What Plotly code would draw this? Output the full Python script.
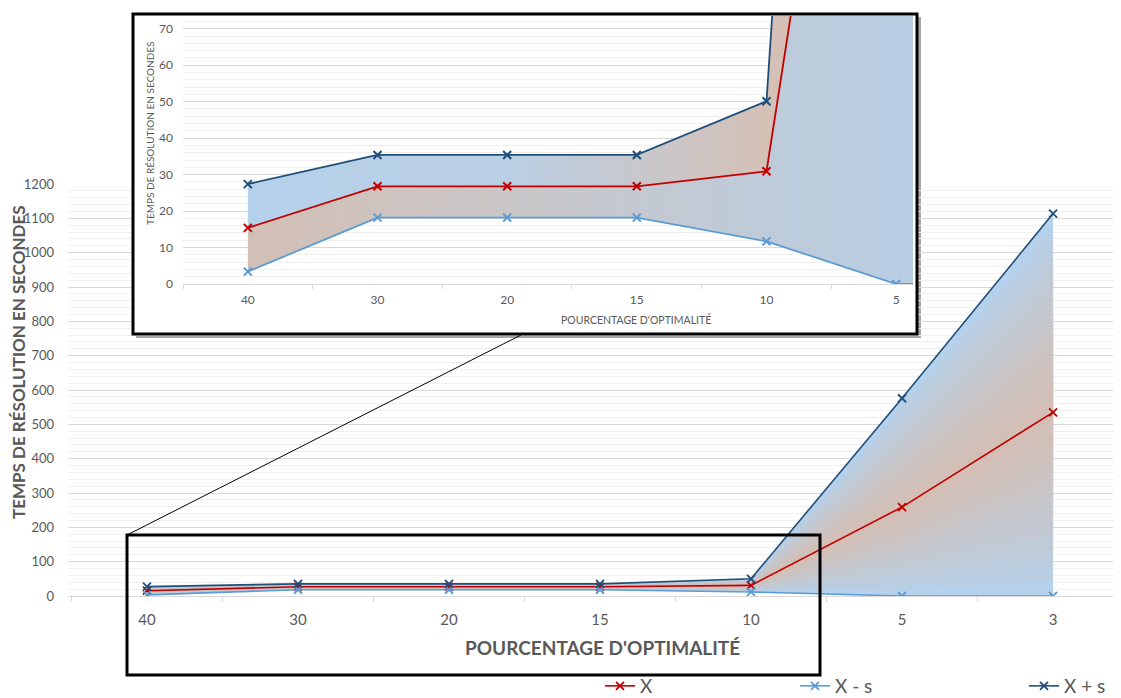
import plotly.graph_objects as go

# ---------------- data ----------------
categories = ["40", "30", "20", "15", "10", "5", "3"]
x_mean = [15.4, 26.8, 26.8, 26.8, 30.9, 259, 535]
x_minus_s = [3.4, 18.2, 18.2, 18.2, 11.7, 0, 0]
x_plus_s = [27.4, 35.4, 35.4, 35.4, 50.1, 576, 1114]
series_names = ["X", "X - s", "X + s"]
y_title = "TEMPS DE RÉSOLUTION EN SECONDES"
x_title = "POURCENTAGE D'OPTIMALITÉ"

# ---------------- style ----------------
PAGE_MARGIN = 8            # default body margin of the html page
W, H = 1121 - PAGE_MARGIN, 698 - PAGE_MARGIN
FONT = "Lato, 'Open Sans', sans-serif"
GREY = "#595959"
RED = "#c00000"
LBLUE = "#5b9bd5"
DBLUE = "#1f4e79"
BLUE_FILL = (181, 209, 235)
TAN_FILL = (211, 191, 181)


def fx(px):
    return (px - PAGE_MARGIN) / W


def fy(py):
    return 1 - (py - PAGE_MARGIN) / H


def mix(c1, c2, t):
    return "rgb(%d,%d,%d)" % tuple(round(a + (b - a) * t) for a, b in zip(c1, c2))


fig = go.Figure()

# ---- main chart: band between X-s and X+s, tan near X, blue toward the edges ----
N = 12
for k in range(N):
    f = 1 - k / N
    lo = [m - f * (m - l) for m, l in zip(x_mean, x_minus_s)]
    hi = [m + f * (p - m) for m, p in zip(x_mean, x_plus_s)]
    col = mix(BLUE_FILL, TAN_FILL, (k / (N - 1)) ** 0.8)
    fig.add_trace(go.Scatter(x=categories, y=lo, mode="lines", line=dict(width=0),
                             showlegend=False, hoverinfo="skip", xaxis="x", yaxis="y"))
    fig.add_trace(go.Scatter(x=categories, y=hi, mode="lines", line=dict(width=0),
                             fill="tonexty", fillcolor=col,
                             showlegend=False, hoverinfo="skip", xaxis="x", yaxis="y"))

main_series = [(series_names[0], x_mean, RED, "legend"),
               (series_names[1], x_minus_s, LBLUE, "legend2"),
               (series_names[2], x_plus_s, DBLUE, "legend3")]
for name, vals, col, lg in main_series:
    fig.add_trace(go.Scatter(
        x=categories, y=vals, name=name, mode="lines+markers",
        line=dict(color=col, width=1.6),
        marker=dict(symbol="x-thin", size=8, line=dict(color=col, width=1.8), color=col),
        legend=lg, xaxis="x", yaxis="y"))

# ---- empty subplot used as the white card behind the inset ----
fig.add_trace(go.Scatter(x=[], y=[], mode="lines", showlegend=False, hoverinfo="skip",
                         xaxis="x2", yaxis="y2"))

# ---- inset chart (x3/y3) ----
fig.add_trace(go.Scatter(x=categories, y=x_minus_s, mode="lines+markers",
                         line=dict(color=LBLUE, width=1.8),
                         marker=dict(symbol="x-thin", size=8, line=dict(color=LBLUE, width=2)),
                         showlegend=False, hoverinfo="skip", xaxis="x3", yaxis="y3"))
fig.add_trace(go.Scatter(x=categories, y=x_mean, mode="lines+markers",
                         line=dict(color=RED, width=1.8),
                         marker=dict(symbol="x-thin", size=8, line=dict(color=RED, width=2)),
                         fill="tonexty",
                         fillgradient=dict(type="horizontal", start=0, stop=5,
                                           colorscale=[[0, mix(TAN_FILL, TAN_FILL, 0)],
                                                       [0.35, "rgb(203,198,198)"],
                                                       [1, "rgb(184,205,226)"]]),
                         showlegend=False, hoverinfo="skip", xaxis="x3", yaxis="y3"))
fig.add_trace(go.Scatter(x=categories, y=x_plus_s, mode="lines+markers",
                         line=dict(color=DBLUE, width=1.8),
                         marker=dict(symbol="x-thin", size=8, line=dict(color=DBLUE, width=2)),
                         fill="tonexty",
                         fillgradient=dict(type="horizontal", start=0, stop=4,
                                           colorscale=[[0, mix(BLUE_FILL, BLUE_FILL, 0)],
                                                       [0.5, "rgb(186,207,228)"],
                                                       [1, "rgb(213,192,182)"]]),
                         showlegend=False, hoverinfo="skip", xaxis="x3", yaxis="y3"))

axis_font = dict(family=FONT, size=15, color=GREY)
inset_font = dict(family=FONT, size=12, color=GREY)

fig.update_layout(
    width=W, height=H,
    margin=dict(l=0, r=0, t=0, b=0, pad=0, autoexpand=False),
    paper_bgcolor="white", plot_bgcolor="white",
    font=dict(family=FONT, color=GREY),
    xaxis=dict(type="category", categoryorder="array", categoryarray=categories,
               domain=[fx(68), 1], range=[-0.523, 6.45], anchor="y",
               tickson="boundaries", ticks="outside", ticklen=5, tickcolor="#d9d9d9",
               showline=True, linecolor="#d9d9d9", linewidth=1, showgrid=False,
               tickfont=axis_font, ticklabelstandoff=10),
    yaxis=dict(domain=[fy(596), fy(184)], range=[0, 1200], dtick=100, anchor="x",
               showgrid=True, gridcolor="#d9d9d9", gridwidth=1, zeroline=False,
               showline=False, tickfont=dict(family=FONT, size=13, color=GREY),
               ticklabelstandoff=13,
               minor=dict(dtick=20, showgrid=True, gridcolor="#efefef", gridwidth=1)),
    # white card behind inset
    xaxis2=dict(domain=[fx(133), fx(917)], anchor="y2", range=[0, 1], showgrid=False,
                zeroline=False, showline=False, showticklabels=False, ticks=""),
    yaxis2=dict(domain=[fy(334), fy(14)], anchor="x2", range=[0, 1], showgrid=False,
                zeroline=False, showline=False, showticklabels=False, ticks=""),
    # inset chart
    xaxis3=dict(type="category", categoryorder="array", categoryarray=categories,
                domain=[fx(183), fx(913)], range=[-0.5, 5.13], anchor="y3",
                tickson="boundaries", ticks="outside", ticklen=4, tickcolor="#d9d9d9",
                showline=True, linecolor="#d9d9d9", showgrid=False,
                tickfont=inset_font, ticklabelstandoff=5),
    yaxis3=dict(domain=[fy(284), fy(16)], range=[0, 73.5], anchor="x3",
                tickvals=[0, 10, 20, 30, 40, 50, 60, 70],
                showgrid=True, gridcolor="#d9d9d9", zeroline=False, showline=False,
                tickfont=inset_font, ticklabelstandoff=9,
                minor=dict(tickvals=[v for v in range(2, 74, 2) if v % 10],
                           showgrid=True, gridcolor="#efefef")),
)

leg_common = dict(orientation="h", font=dict(family=FONT, size=19, color=GREY),
                  bgcolor="rgba(0,0,0,0)", xanchor="left", yanchor="middle",
                  itemclick=False, itemdoubleclick=False)
fig.update_layout(
    legend=dict(x=fx(600), y=fy(686), **leg_common),
    legend2=dict(x=fx(795), y=fy(686), **leg_common),
    legend3=dict(x=fx(1024), y=fy(686), **leg_common),
)

ann_common = dict(xref="paper", yref="paper", showarrow=False, xanchor="center", yanchor="middle")
fig.add_annotation(text=y_title, x=fx(18), y=fy(362), textangle=-90,
                   font=dict(family=FONT, size=17, color=GREY, weight="bold"), **ann_common)
fig.add_annotation(text=x_title, x=fx(602), y=fy(647),
                   font=dict(family=FONT, size=19, color=GREY, weight="bold"), **ann_common)
fig.add_annotation(text=y_title, x=fx(150), y=fy(133), textangle=-90,
                   font=dict(family=FONT, size=10, color=GREY), **ann_common)
fig.add_annotation(text=x_title, x=fx(636), y=fy(319),
                   font=dict(family=FONT, size=10.5, color=GREY), **ann_common)

# shadow, inset frame, zoom rectangle and connector
fig.add_shape(type="rect", xref="paper", yref="paper", layer="below",
              x0=fx(136), x1=fx(921), y0=fy(338), y1=fy(17),
              fillcolor="rgba(0,0,0,0.35)", line=dict(width=0))
fig.add_shape(type="rect", xref="paper", yref="paper", layer="above",
              x0=fx(133), x1=fx(917), y0=fy(334), y1=fy(14),
              line=dict(color="black", width=3))
fig.add_shape(type="rect", xref="paper", yref="paper", layer="above",
              x0=fx(127), x1=fx(820), y0=fy(675), y1=fy(535),
              line=dict(color="black", width=3))
fig.add_shape(type="line", xref="paper", yref="paper", layer="above",
              x0=fx(127), x1=fx(521), y0=fy(535), y1=fy(335),
              line=dict(color="black", width=1))

fig.write_html("out.html")
